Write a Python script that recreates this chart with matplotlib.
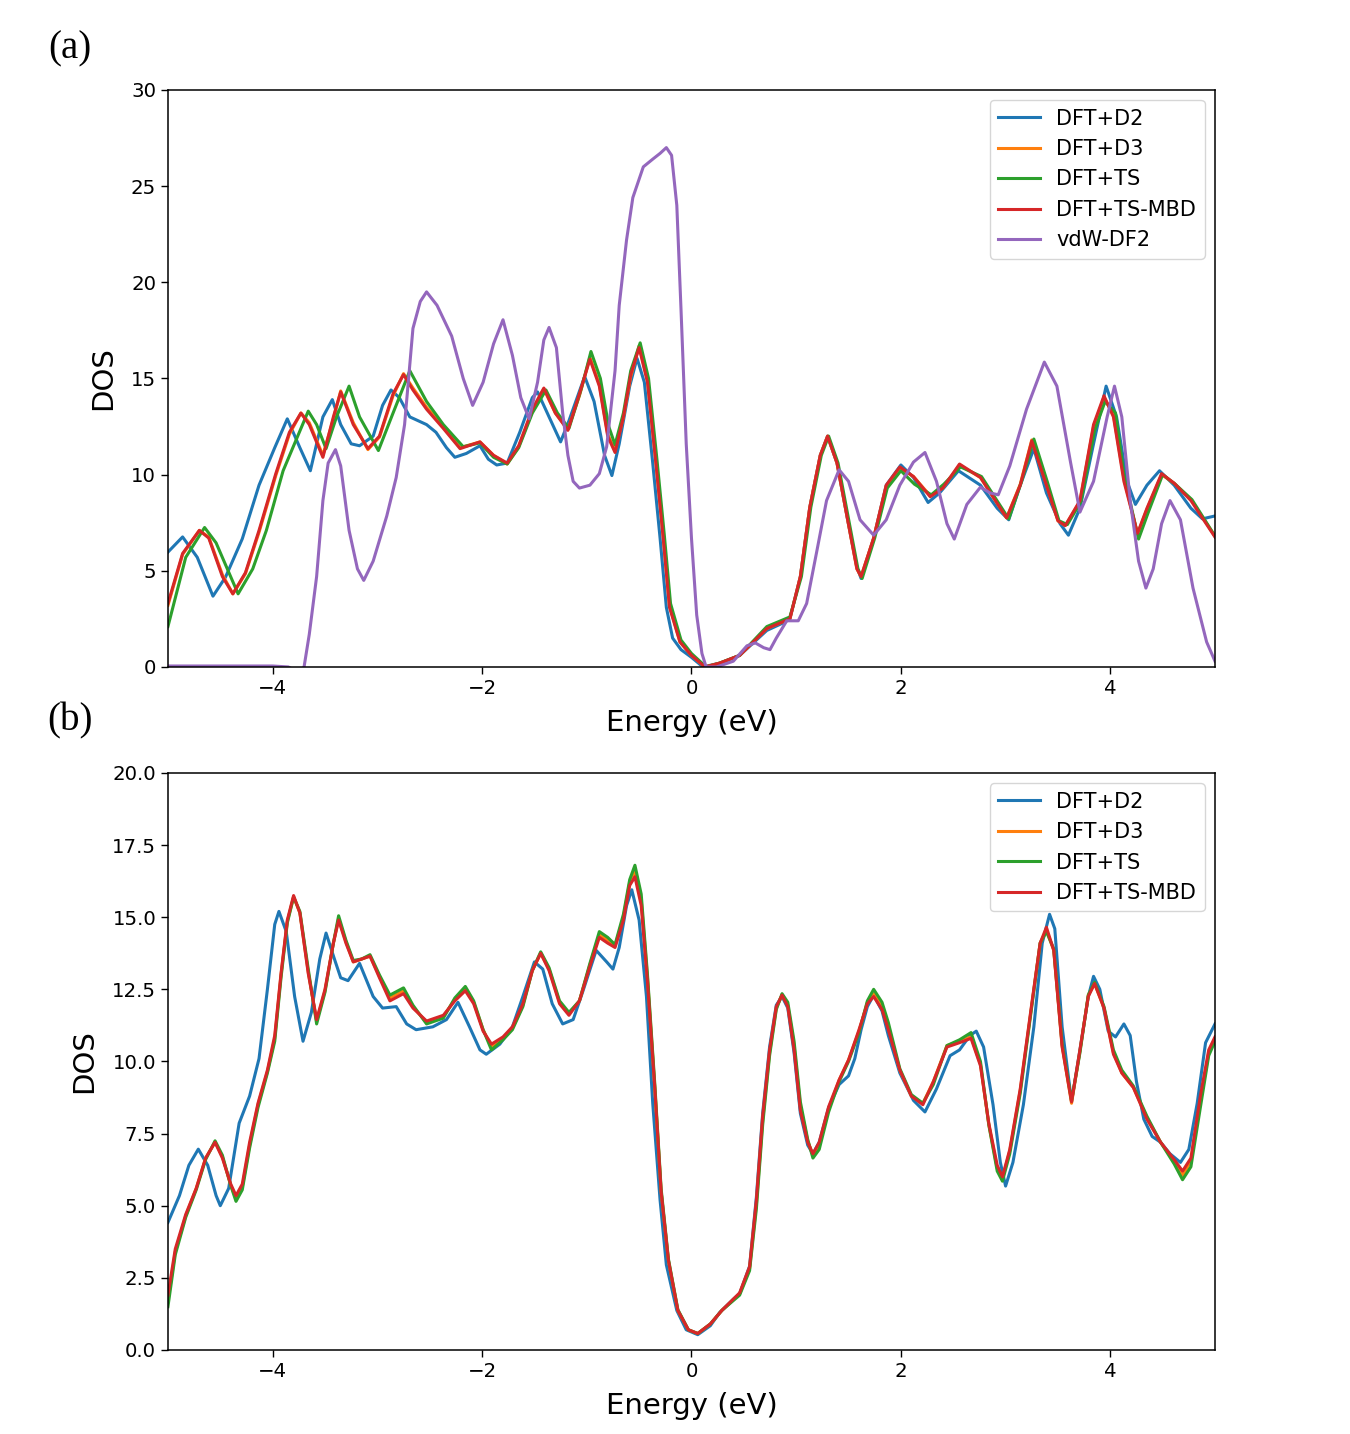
import matplotlib
matplotlib.use("Agg")
import matplotlib.pyplot as plt

# ---------------- panel (a) ----------------
e_a_d2 = [-5.0, -4.86, -4.72, -4.57, -4.45, -4.29, -4.13, -3.98, -3.86, -3.74, -3.64, -3.52, -3.43, -3.35,
          -3.25, -3.17, -3.04, -2.95, -2.87, -2.79, -2.69, -2.53, -2.44, -2.34, -2.26, -2.15, -2.02, -1.94,
          -1.86, -1.76, -1.64, -1.52, -1.47, -1.36, -1.25, -1.17, -1.02, -0.93, -0.83, -0.76, -0.69, -0.59,
          -0.52, -0.45, -0.37, -0.30, -0.24, -0.18, -0.10, 0.0, 0.11, 0.27, 0.46, 0.72, 0.88, 0.94, 1.04,
          1.13, 1.23, 1.30, 1.39, 1.49, 1.58, 1.62, 1.74, 1.86, 2.0, 2.12, 2.26, 2.37, 2.55, 2.76, 2.92,
          3.03, 3.14, 3.27, 3.39, 3.52, 3.60, 3.71, 3.84, 3.96, 4.06, 4.16, 4.24, 4.35, 4.47, 4.61, 4.77,
          4.88, 5.0]
dos_a_d2 = [5.97, 6.76, 5.7, 3.68, 4.67, 6.66, 9.45, 11.4, 12.9, 11.4, 10.2, 13.0, 13.9, 12.6,
            11.6, 11.5, 12.0, 13.6, 14.4, 14.0, 13.0, 12.6, 12.2, 11.4, 10.9, 11.1, 11.5, 10.8,
            10.5, 10.6, 12.2, 14.0, 14.3, 13.0, 11.7, 12.8, 15.1, 13.8, 11.0, 9.95, 11.6, 14.6,
            16.05, 14.8, 10.6, 6.7, 3.1, 1.5, 0.9, 0.5, 0.0, 0.2, 0.6, 1.9, 2.3, 2.5, 4.7,
            8.3, 11.0, 12.0, 10.6, 7.7, 5.2, 4.6, 6.7, 9.45, 10.5, 9.85, 8.55, 9.05, 10.2, 9.45, 8.25,
            7.65, 9.45, 11.35, 9.05, 7.45, 6.85, 8.25, 11.6, 14.6, 13.0, 9.65, 8.45, 9.45, 10.2, 9.45, 8.25,
            7.7, 7.85]

e_a_mbd = [-5.0, -4.86, -4.70, -4.61, -4.48, -4.38, -4.26, -4.13, -3.97, -3.84, -3.73, -3.65, -3.52, -3.42,
           -3.35, -3.23, -3.09, -2.98, -2.85, -2.75, -2.66, -2.53, -2.37, -2.21, -2.02, -1.89, -1.76, -1.65,
           -1.52, -1.41, -1.30, -1.18, -1.07, -0.97, -0.88, -0.80, -0.73, -0.65, -0.58, -0.50, -0.42, -0.34,
           -0.27, -0.21, -0.11, 0.0, 0.13, 0.27, 0.46, 0.72, 0.94, 1.04, 1.13, 1.23, 1.30, 1.39, 1.49,
           1.58, 1.62, 1.74, 1.86, 1.99, 2.12, 2.28, 2.40, 2.56, 2.76, 3.01, 3.14, 3.25, 3.39, 3.50,
           3.57, 3.71, 3.84, 3.94, 4.03, 4.13, 4.26, 4.35, 4.49, 4.61, 4.77, 5.0]
dos_a_mbd = [3.3, 5.9, 7.1, 6.7, 4.7, 3.8, 4.9, 7.1, 10.05, 12.2, 13.2, 12.6, 10.9, 13.0,
             14.3, 12.6, 11.35, 12.0, 14.2, 15.2, 14.4, 13.4, 12.4, 11.35, 11.7, 11.0, 10.6, 11.5,
             13.4, 14.5, 13.2, 12.3, 14.2, 16.0, 14.6, 12.0, 11.15, 13.0, 15.2, 16.6, 14.8, 10.6,
             6.7, 3.1, 1.3, 0.6, 0.0, 0.2, 0.6, 2.0, 2.5, 4.7, 8.3, 11.0, 12.0, 10.6, 7.7,
             5.1, 4.7, 6.7, 9.45, 10.4, 9.9, 8.85, 9.3, 10.55, 9.85, 7.75, 9.45, 11.75, 9.45, 7.6,
             7.35, 8.65, 12.6, 14.1, 13.0, 9.65, 6.95, 8.25, 10.05, 9.55, 8.65, 6.75]

e_a_d3 = e_a_mbd
dos_a_d3 = [3.2, 5.85, 7.1, 6.75, 4.8, 3.8, 4.85, 7.0, 9.95, 12.1, 13.2, 12.7, 11.0, 12.9,
            14.35, 12.7, 11.3, 11.95, 14.1, 15.25, 14.5, 13.5, 12.5, 11.4, 11.7, 11.0, 10.55, 11.45,
            13.3, 14.45, 13.2, 12.35, 14.1, 16.1, 14.7, 12.1, 11.25, 13.0, 15.1, 16.7, 14.9, 10.7,
            6.8, 3.2, 1.3, 0.6, 0.0, 0.2, 0.6, 2.0, 2.5, 4.7, 8.3, 11.0, 12.0, 10.6, 7.7,
            5.1, 4.7, 6.7, 9.4, 10.35, 9.9, 8.9, 9.3, 10.5, 9.85, 7.75, 9.5, 11.8, 9.5, 7.6,
            7.35, 8.6, 12.5, 14.0, 13.1, 9.8, 6.9, 8.2, 10.0, 9.55, 8.7, 6.8]

e_a_ts = [-5.0, -4.83, -4.65, -4.54, -4.33, -4.19, -4.06, -3.90, -3.66, -3.58, -3.49, -3.39, -3.27, -3.17,
          -2.99, -2.85, -2.69, -2.53, -2.37, -2.18, -2.02, -1.89, -1.76, -1.65, -1.52, -1.39, -1.28, -1.17,
          -1.05, -0.96, -0.87, -0.79, -0.73, -0.65, -0.58, -0.49, -0.41, -0.33, -0.26, -0.20, -0.10, 0.0,
          0.14, 0.27, 0.46, 0.72, 0.94, 1.05, 1.14, 1.24, 1.31, 1.40, 1.50, 1.59, 1.63, 1.75, 1.87,
          2.0, 2.13, 2.29, 2.41, 2.57, 2.77, 3.03, 3.15, 3.27, 3.40, 3.51, 3.59, 3.72, 3.85, 3.95,
          4.05, 4.13, 4.27, 4.36, 4.50, 4.62, 4.78, 5.0]
dos_a_ts = [2.1, 5.7, 7.25, 6.45, 3.8, 5.1, 7.1, 10.2, 13.3, 12.6, 11.35, 13.0, 14.6, 13.0,
            11.25, 13.2, 15.4, 13.8, 12.6, 11.45, 11.65, 10.9, 10.55, 11.4, 13.2, 14.4, 13.2, 12.4,
            14.5, 16.4, 15.0, 12.5, 11.55, 13.2, 15.4, 16.85, 15.0, 10.8, 6.9, 3.3, 1.4, 0.7,
            0.0, 0.2, 0.6, 2.1, 2.6, 4.7, 8.3, 11.0, 12.0, 10.6, 7.7, 5.1, 4.6, 6.7, 9.3,
            10.2, 9.5, 8.95, 9.5, 10.4, 9.9, 7.7, 9.6, 11.85, 9.6, 7.6, 7.4, 8.6, 12.3, 13.8,
            13.2, 10.0, 6.65, 8.0, 10.0, 9.5, 8.7, 6.8]

e_a_df2 = [-5.0, -4.5, -4.0, -3.85, -3.75, -3.70, -3.65, -3.58, -3.52, -3.47, -3.40, -3.35, -3.27, -3.19,
           -3.13, -3.04, -2.91, -2.82, -2.74, -2.66, -2.59, -2.53, -2.43, -2.29, -2.18, -2.09, -1.99, -1.89,
           -1.80, -1.71, -1.63, -1.55, -1.47, -1.41, -1.36, -1.29, -1.23, -1.18, -1.13, -1.07, -0.97, -0.88,
           -0.81, -0.73, -0.69, -0.62, -0.56, -0.46, -0.37, -0.30, -0.24, -0.19, -0.14, -0.10, -0.05, 0.0,
           0.05, 0.10, 0.14, 0.24, 0.40, 0.53, 0.61, 0.69, 0.75, 0.81, 0.91, 1.02, 1.10, 1.20, 1.29,
           1.41, 1.50, 1.61, 1.74, 1.86, 1.99, 2.12, 2.23, 2.34, 2.44, 2.51, 2.63, 2.76, 2.85, 2.93,
           3.04, 3.20, 3.37, 3.49, 3.62, 3.71, 3.84, 3.97, 4.04, 4.11, 4.19, 4.27, 4.34, 4.41, 4.49,
           4.57, 4.67, 4.79, 4.92, 5.0]
dos_a_df2 = [0.05, 0.05, 0.05, 0.0, -0.3, 0.0, 1.7, 4.7, 8.65, 10.6, 11.3, 10.45, 7.1, 5.1,
             4.5, 5.5, 7.85, 9.85, 12.6, 17.6, 19.0, 19.5, 18.8, 17.2, 15.0, 13.6, 14.8, 16.8,
             18.05, 16.2, 14.0, 12.9, 14.8, 17.0, 17.65, 16.6, 13.2, 11.0, 9.65, 9.3, 9.45, 10.05,
             11.45, 15.4, 18.8, 22.2, 24.4, 26.0, 26.4, 26.7, 27.0, 26.6, 24.0, 18.6, 11.6, 6.7,
             2.7, 0.7, 0.0, 0.0, 0.3, 1.1, 1.25, 1.0, 0.9, 1.5, 2.4, 2.4, 3.3, 6.1, 8.65,
             10.25, 9.65, 7.65, 6.85, 7.65, 9.45, 10.65, 11.15, 9.65, 7.45, 6.65, 8.45, 9.35, 9.05, 8.95,
             10.45, 13.4, 15.85, 14.6, 10.65, 8.05, 9.65, 13.0, 14.6, 13.0, 8.65, 5.5, 4.1, 5.1, 7.45,
             8.65, 7.65, 4.1, 1.3, 0.3]

# ---------------- panel (b) ----------------
e_b_d2 = [-5.0, -4.89, -4.80, -4.71, -4.62, -4.54, -4.50, -4.42, -4.32, -4.22, -4.13, -4.05, -3.98, -3.94,
          -3.87, -3.79, -3.71, -3.63, -3.55, -3.49, -3.41, -3.35, -3.28, -3.17, -3.04, -2.95, -2.82, -2.72,
          -2.63, -2.47, -2.34, -2.23, -2.12, -2.02, -1.96, -1.83, -1.71, -1.61, -1.50, -1.42, -1.33, -1.23,
          -1.13, -1.04, -0.91, -0.81, -0.75, -0.69, -0.62, -0.57, -0.50, -0.43, -0.37, -0.30, -0.24, -0.14,
          -0.05, 0.06, 0.18, 0.27, 0.40, 0.46, 0.555, 0.62, 0.68, 0.746, 0.81, 0.865, 0.92, 0.98, 1.04,
          1.11, 1.16, 1.22, 1.31, 1.41, 1.50, 1.56, 1.62, 1.68, 1.74, 1.82, 1.88, 1.99, 2.12, 2.23,
          2.34, 2.47, 2.56, 2.66, 2.72, 2.79, 2.88, 2.95, 3.0, 3.07, 3.17, 3.27, 3.35, 3.42, 3.47,
          3.54, 3.63, 3.71, 3.79, 3.84, 3.90, 3.98, 4.05, 4.13, 4.19, 4.25, 4.32, 4.40, 4.48, 4.57,
          4.67, 4.75, 4.83, 4.91, 5.0]
dos_b_d2 = [4.42, 5.35, 6.4, 6.96, 6.4, 5.35, 5.0, 5.6, 7.86, 8.8, 10.1, 12.5, 14.75, 15.2,
            14.5, 12.25, 10.7, 11.7, 13.55, 14.45, 13.55, 12.9, 12.8, 13.4, 12.25, 11.85, 11.9, 11.3,
            11.1, 11.2, 11.45, 12.05, 11.2, 10.4, 10.25, 10.6, 11.2, 12.25, 13.45, 13.2, 12.0, 11.3,
            11.45, 12.4, 13.85, 13.45, 13.2, 13.95, 15.4, 15.95, 14.9, 12.25, 8.55, 5.2, 2.95, 1.37,
            0.7, 0.53, 0.84, 1.3, 1.76, 1.95, 2.9, 5.3, 8.2, 10.5, 11.95, 12.25, 11.85, 10.3, 8.2,
            7.1, 6.8, 7.2, 8.4, 9.2, 9.5, 10.1, 11.1, 11.9, 12.3, 11.75, 10.9, 9.6, 8.65, 8.25,
            9.05, 10.2, 10.4, 10.9, 11.05, 10.5, 8.5, 6.5, 5.68, 6.5, 8.5, 11.2, 14.1, 15.1, 14.6,
            11.2, 8.6, 10.4, 12.25, 12.95, 12.5, 11.05, 10.85, 11.3, 10.9, 9.3, 8.0, 7.4, 7.2, 6.8,
            6.5, 6.95, 8.55, 10.65, 11.3]

e_b_mbd = [-5.0, -4.93, -4.83, -4.73, -4.64, -4.55, -4.48, -4.40, -4.35, -4.29, -4.22, -4.14, -4.05, -3.98,
           -3.92, -3.86, -3.80, -3.74, -3.66, -3.58, -3.50, -3.42, -3.37, -3.30, -3.23, -3.15, -3.07, -2.98,
           -2.88, -2.75, -2.66, -2.53, -2.37, -2.26, -2.16, -2.08, -1.99, -1.91, -1.80, -1.71, -1.61, -1.52,
           -1.44, -1.36, -1.26, -1.17, -1.07, -0.97, -0.88, -0.80, -0.73, -0.65, -0.59, -0.54, -0.48, -0.42,
           -0.35, -0.29, -0.22, -0.13, -0.03, 0.06, 0.18, 0.29, 0.46, 0.555, 0.62, 0.68, 0.746, 0.81, 0.865,
           0.92, 0.98, 1.04, 1.11, 1.16, 1.22, 1.31, 1.41, 1.50, 1.60, 1.68, 1.74, 1.82, 1.88, 1.99,
           2.10, 2.21, 2.31, 2.44, 2.56, 2.67, 2.76, 2.84, 2.92, 2.97, 3.04, 3.14, 3.25, 3.33, 3.39,
           3.46, 3.54, 3.63, 3.71, 3.79, 3.85, 3.94, 4.03, 4.11, 4.22, 4.35, 4.48, 4.61, 4.69, 4.77,
           4.86, 4.94, 5.0]
dos_b_mbd = [1.9, 3.5, 4.7, 5.6, 6.65, 7.2, 6.65, 5.75, 5.35, 5.75, 7.2, 8.55, 9.7, 10.9,
             13.05, 14.9, 15.75, 15.15, 13.05, 11.45, 12.5, 14.1, 14.9, 14.1, 13.45, 13.55, 13.65, 12.9,
             12.1, 12.35, 11.85, 11.4, 11.6, 12.1, 12.45, 12.0, 11.05, 10.6, 10.85, 11.2, 12.0, 13.15,
             13.75, 13.15, 12.0, 11.6, 12.1, 13.3, 14.3, 14.1, 13.95, 14.9, 16.1, 16.4, 15.4, 12.75,
             9.05, 5.5, 3.1, 1.37, 0.7, 0.57, 0.9, 1.37, 1.98, 2.89, 5.2, 8.1, 10.4, 11.9, 12.3,
             11.9, 10.4, 8.3, 7.2, 6.8, 7.2, 8.43, 9.36, 10.05, 11.1, 12.0, 12.25, 11.8, 11.1, 9.7,
             8.8, 8.5, 9.3, 10.5, 10.65, 10.8, 9.85, 7.85, 6.4, 6.0, 6.95, 9.05, 12.0, 14.1, 14.65,
             13.85, 10.5, 8.6, 10.4, 12.25, 12.7, 11.85, 10.25, 9.6, 9.1, 8.0, 7.2, 6.6, 6.2, 6.65,
             8.8, 10.4, 10.85]

e_b_d3 = e_b_mbd
dos_b_d3 = [1.7, 3.4, 4.65, 5.6, 6.65, 7.2, 6.7, 5.7, 5.25, 5.65, 7.1, 8.5, 9.65, 10.8,
            13.0, 14.85, 15.7, 15.15, 13.1, 11.4, 12.45, 14.1, 14.95, 14.15, 13.45, 13.55, 13.65, 12.95,
            12.2, 12.45, 11.9, 11.35, 11.55, 12.15, 12.5, 12.05, 11.1, 10.5, 10.8, 11.15, 11.95, 13.15,
            13.75, 13.2, 12.05, 11.65, 12.1, 13.35, 14.4, 14.2, 14.0, 15.0, 16.2, 16.6, 15.6, 12.9,
            9.1, 5.5, 3.1, 1.37, 0.7, 0.57, 0.9, 1.37, 1.95, 2.82, 5.05, 7.95, 10.3, 11.85, 12.3,
            11.95, 10.55, 8.45, 7.25, 6.75, 7.1, 8.35, 9.35, 10.05, 11.05, 12.05, 12.35, 11.9, 11.2, 9.7,
            8.8, 8.55, 9.3, 10.55, 10.7, 10.85, 9.9, 7.8, 6.3, 5.95, 6.9, 9.0, 11.95, 14.1, 14.55,
            13.85, 10.55, 8.55, 10.35, 12.3, 12.7, 11.85, 10.3, 9.6, 9.1, 8.05, 7.2, 6.55, 6.05, 6.55,
            8.6, 10.3, 10.8]

e_b_ts = e_b_mbd
dos_b_ts = [1.5, 3.3, 4.6, 5.55, 6.6, 7.25, 6.75, 5.7, 5.15, 5.55, 7.0, 8.4, 9.6, 10.7,
            12.9, 14.8, 15.7, 15.2, 13.2, 11.3, 12.4, 14.1, 15.05, 14.2, 13.5, 13.55, 13.7, 13.0,
            12.3, 12.55, 11.95, 11.3, 11.5, 12.2, 12.6, 12.1, 11.1, 10.4, 10.75, 11.1, 11.9, 13.15,
            13.8, 13.25, 12.1, 11.7, 12.1, 13.4, 14.5, 14.3, 14.05, 15.1, 16.3, 16.8, 15.8, 13.0,
            9.2, 5.6, 3.15, 1.4, 0.7, 0.57, 0.9, 1.37, 1.9, 2.75, 4.9, 7.8, 10.2, 11.8, 12.35,
            12.05, 10.7, 8.6, 7.3, 6.65, 6.95, 8.25, 9.3, 10.0, 11.0, 12.1, 12.5, 12.05, 11.35, 9.75,
            8.85, 8.55, 9.2, 10.55, 10.75, 11.0, 10.0, 7.8, 6.2, 5.85, 6.8, 8.9, 11.9, 14.1, 14.5,
            13.9, 10.6, 8.65, 10.3, 12.3, 12.75, 11.9, 10.4, 9.7, 9.15, 8.1, 7.2, 6.45, 5.9, 6.35,
            8.4, 10.2, 10.7]

labels = ["DFT+D2", "DFT+D3", "DFT+TS", "DFT+TS-MBD", "vdW-DF2"]
colors = ["#1f77b4", "#ff7f0e", "#2ca02c", "#d62728", "#9467bd"]

panel_a = [(e_a_d2, dos_a_d2), (e_a_d3, dos_a_d3), (e_a_ts, dos_a_ts), (e_a_mbd, dos_a_mbd), (e_a_df2, dos_a_df2)]
panel_b = [(e_b_d2, dos_b_d2), (e_b_d3, dos_b_d3), (e_b_ts, dos_b_ts), (e_b_mbd, dos_b_mbd)]

fig = plt.figure(figsize=(13.5, 14.34), dpi=100)
ax_a = fig.add_axes([0.1244, 0.5349, 0.7756, 0.4024])
ax_b = fig.add_axes([0.1244, 0.0586, 0.7756, 0.4024])

for ax, series, ymax in [(ax_a, panel_a, 30), (ax_b, panel_b, 20)]:
    for (e, d), lab, col in zip(series, labels, colors):
        ax.plot(e, d, color=col, lw=2.2, label=lab)
    ax.set_xlim(-5, 5)
    ax.set_ylim(0, ymax)
    ax.set_xlabel("Energy (eV)", fontsize=21, labelpad=8)
    ax.set_ylabel("DOS", fontsize=21, labelpad=10)
    ax.tick_params(labelsize=14.2, width=1.0, length=5)
    for sp in ax.spines.values():
        sp.set_linewidth(1.1)
    ax.legend(loc="upper right", fontsize=15)

ax_a.set_yticks(range(0, 31, 5))

fig.text(0.052, 0.966, "(a)", fontsize=28, family="Liberation Serif", ha="center", va="center")
fig.text(0.052, 0.497, "(b)", fontsize=28, family="Liberation Serif", ha="center", va="center")

fig.savefig("out.png", dpi=100)
